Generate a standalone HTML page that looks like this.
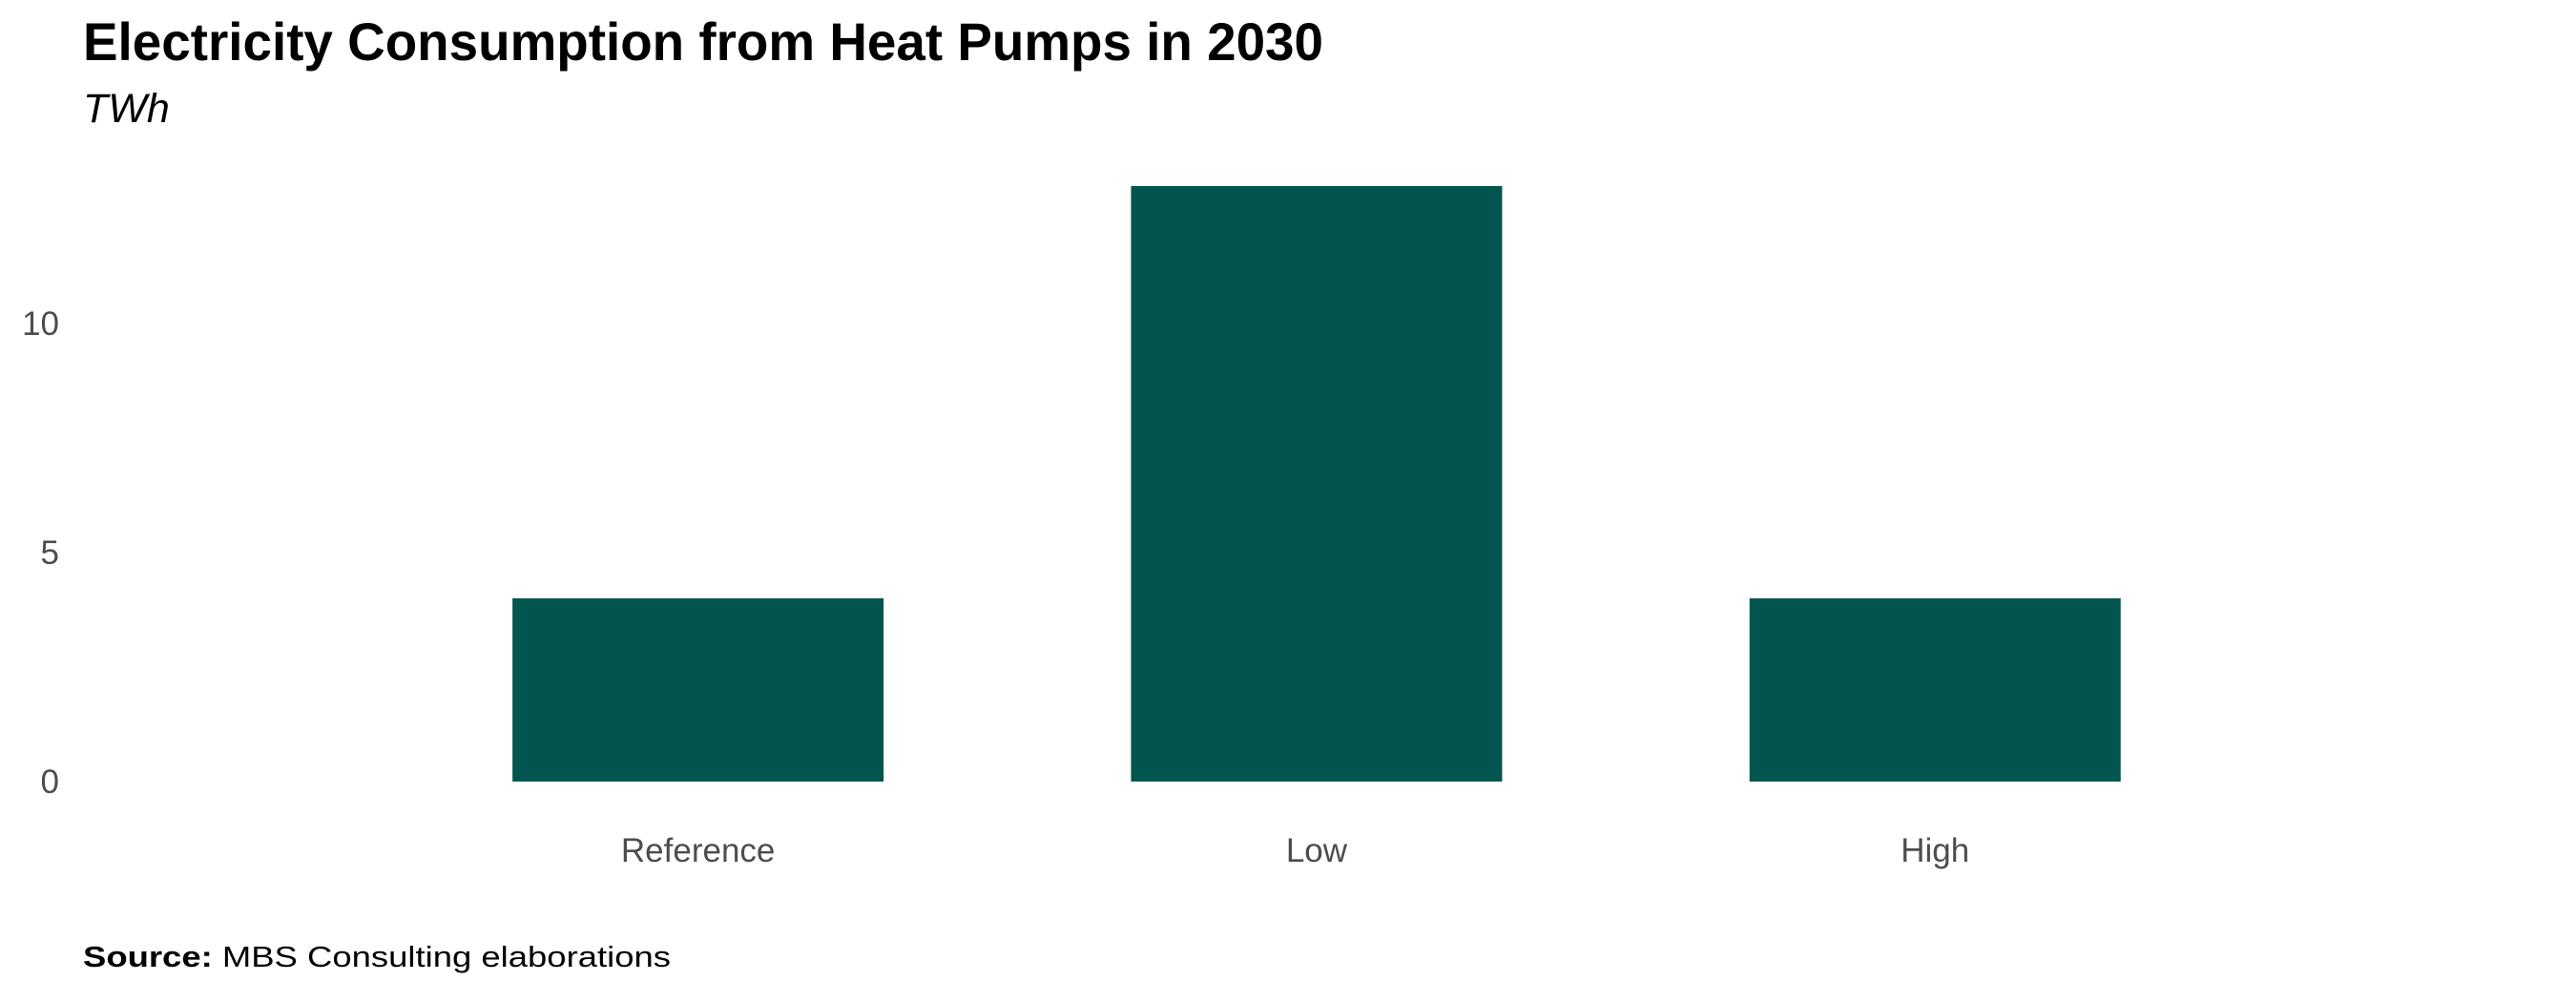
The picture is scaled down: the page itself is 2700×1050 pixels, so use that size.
<!DOCTYPE html>
<html><head><meta charset="utf-8"><style>
html,body{margin:0;padding:0;background:#fff;}
svg{display:block;font-family:"Liberation Sans",Arial,sans-serif;}
</style></head><body>
<svg id="chart" width="2700" height="1050" viewBox="0 0 2700 1050">
<text x="87" y="63" font-size="56" font-weight="bold" fill="#000" textLength="1300" lengthAdjust="spacingAndGlyphs">Electricity Consumption from Heat Pumps in 2030</text>
<text x="87" y="128" font-size="43" font-style="italic" fill="#000">TWh</text>
<g id="yticks"></g>
<g id="bars"></g>
<g id="xlabels"></g>
<text x="87" y="1013" font-size="31" fill="#000" textLength="616" lengthAdjust="spacingAndGlyphs"><tspan font-weight="bold">Source:</tspan> MBS Consulting elaborations</text>
</svg>
<script>
const categories = ["Reference", "Low", "High"];
const values = [4, 13, 4];
const yTicks = [0, 5, 10];

const NS = "http://www.w3.org/2000/svg";
const y0 = 819, pxPerUnit = 48;
const xStart = 407.5, step = 648.3, barW = 389;
function yScale(v){ return y0 - v * pxPerUnit; }
function xCenter(i){ return xStart + (i + 0.5) * step; }

const yt = document.getElementById('yticks');
yTicks.forEach(t => {
  const el = document.createElementNS(NS, 'text');
  el.setAttribute('x', 62);
  el.setAttribute('y', yScale(t) + 12);
  el.setAttribute('text-anchor', 'end');
  el.setAttribute('font-size', '35');
  el.setAttribute('fill', '#4d4d4d');
  el.textContent = t;
  
  
  yt.appendChild(el);
});

const bars = document.getElementById('bars');
const xl = document.getElementById('xlabels');
categories.forEach((c, i) => {
  const r = document.createElementNS(NS, 'rect');
  r.setAttribute('x', xCenter(i) - barW / 2);
  r.setAttribute('y', yScale(values[i]));
  r.setAttribute('width', barW);
  r.setAttribute('height', y0 - yScale(values[i]));
  r.setAttribute('fill', '#02554f');
  
  
  bars.appendChild(r);
  const t = document.createElementNS(NS, 'text');
  t.setAttribute('x', xCenter(i));
  t.setAttribute('y', 903);
  t.setAttribute('text-anchor', 'middle');
  t.setAttribute('font-size', '35');
  t.setAttribute('fill', '#4d4d4d');
  t.textContent = c;
  
  
  xl.appendChild(t);
});
</script>
</body></html>
